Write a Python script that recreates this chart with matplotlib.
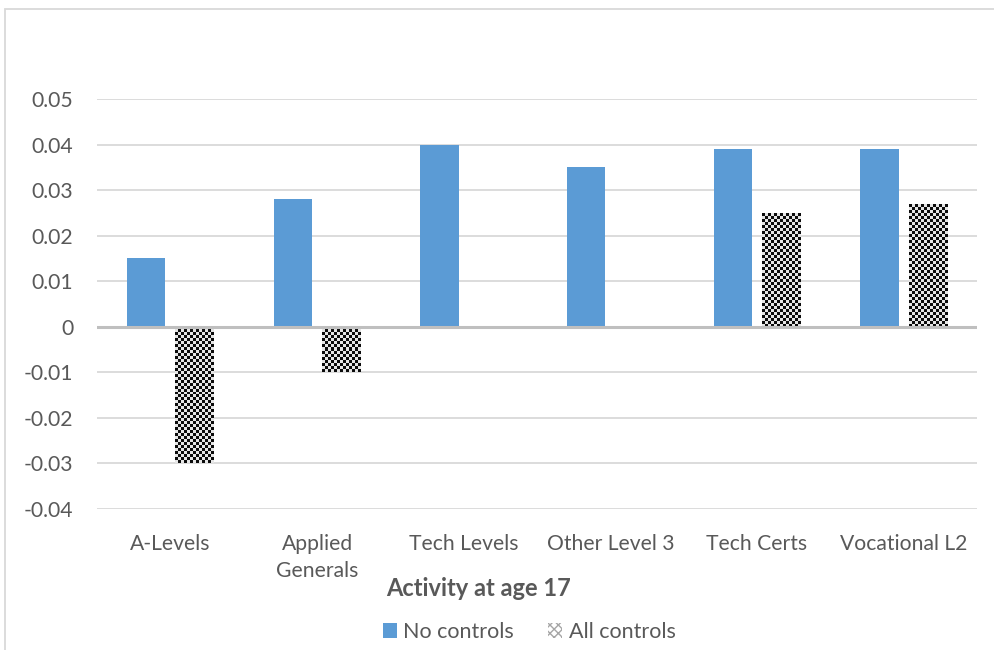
import numpy as np
import matplotlib
matplotlib.use("Agg")
import matplotlib.pyplot as plt
from matplotlib.patches import Patch, Rectangle

categories = ["A-Levels", "Applied\nGenerals", "Tech Levels", "Other Level 3",
              "Tech Certs", "Vocational L2"]
no_controls = [0.015, 0.028, 0.040, 0.035, 0.039, 0.039]
all_controls = [-0.030, -0.010, 0.0, 0.0, 0.025, 0.027]
yticks = [-0.04, -0.03, -0.02, -0.01, 0, 0.01, 0.02, 0.03, 0.04, 0.05]
ytick_labels = ["-0.04", "-0.03", "-0.02", "-0.01", "0", "0.01", "0.02",
                "0.03", "0.04", "0.05"]

BLUE = "#5b9bd5"
TEXT = "#595959"
GRID = "#d9d9d9"

plt.rcParams["font.family"] = ["Lato", "DejaVu Sans"]

W, H = 994, 650
fig = plt.figure(figsize=(W / 100, H / 100), dpi=100)
ax = fig.add_axes([97 / W, 1 - 509 / H, (977 - 97) / W, (509 - 99) / H])

# outer chart frame (runs off the right and bottom edges)
fig.patches.append(Rectangle((5 / W, -0.05), 1.2, 1 - 9 / H + 0.05,
                             transform=fig.transFigure, fill=False,
                             edgecolor=GRID, lw=1.3))

x = np.arange(len(categories))
bw = 0.26
off = 0.165
ax.bar(x - off, no_controls, bw, color=BLUE, zorder=3)
bars2 = ax.bar(x + off, all_controls, bw, color="white", zorder=3)

ax.set_xlim(-0.5, len(categories) - 0.5)
ax.set_ylim(-0.04, 0.05)

# checkerboard fill for the "All controls" bars
cell = 3  # pixels per square
px_x = ax.get_window_extent().width / (len(categories))
px_y = ax.get_window_extent().height / 0.09
for b in bars2:
    h = b.get_height()
    if h == 0:
        continue
    x0, w = b.get_x(), b.get_width()
    y0 = min(b.get_y(), b.get_y() + h)
    nx = max(1, int(round(w * px_x / cell)))
    ny = max(1, int(round(abs(h) * px_y / cell)))
    ii, jj = np.indices((ny, nx))
    board = ((ii + jj) % 2) * 0.85 + 0.05
    im = ax.imshow(board, cmap="gray", vmin=0, vmax=1, interpolation="nearest",
                   aspect="auto", extent=(x0, x0 + w, y0, y0 + abs(h)), zorder=4)
    im.set_clip_path(b)

ax.set_xlim(-0.5, len(categories) - 0.5)
ax.set_ylim(-0.04, 0.05)

ax.set_yticks(yticks)
ax.set_yticklabels(ytick_labels)
ax.set_xticks(x)
ax.set_xticklabels(categories, linespacing=1.45)
ax.tick_params(axis="y", length=0, pad=17, labelsize=15.2, labelcolor=TEXT)
ax.tick_params(axis="x", length=0, pad=18, labelsize=15.2, labelcolor=TEXT)
ax.grid(axis="y", color=GRID, lw=1.3, zorder=0)
ax.axhline(0, color="#bfbfbf", lw=2.2, zorder=5)
for s in ax.spines.values():
    s.set_visible(False)

fig.text(478 / W, 1 - 588 / H, "Activity at age 17", ha="center", va="center",
         fontsize=17, fontweight="bold", color=TEXT)

handles = [Patch(facecolor=BLUE, edgecolor="none"),
           Patch(facecolor="white", edgecolor="#a6a6a6", hatch="xxxx", lw=0)]
fig.legend(handles, ["No controls", "All controls"], loc="center",
           bbox_to_anchor=(529 / W, 1 - 632 / H), ncol=2, frameon=False,
           fontsize=15.5, labelcolor=TEXT, handlelength=0.65, handleheight=0.65,
           handletextpad=0.3, columnspacing=1.6)

fig.savefig("out.png", dpi=100)
